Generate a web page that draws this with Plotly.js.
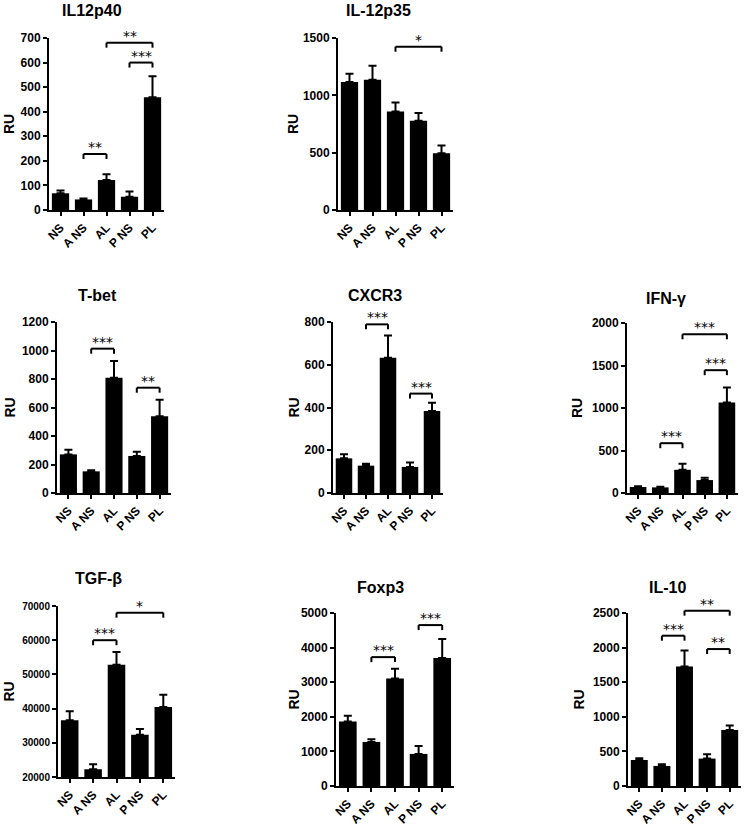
<!DOCTYPE html>
<html>
<head>
<meta charset="utf-8">
<script src="https://cdn.plot.ly/plotly-3.0.1.min.js"></script>
<style>
  body { margin: 0; background: #fff; }
  #chart { width: 746px; height: 828px; }
</style>
</head>
<body>
<div id="chart"></div>
<script>
const categories = ['NS', 'A NS', 'AL', 'P NS', 'PL'];

// means, SEM (upper error) and significance brackets [from, to, level, label]
const il12p40Mean = [68, 43, 122, 54, 459];
const il12p40Sem = [11, 4, 23, 21, 85];
const il12p40Sig = [[1, 2, 228, '**'], [3, 4, 600, '***'], [2, 4, 681, '**']];

const il12p35Mean = [1116, 1136, 859, 778, 495];
const il12p35Sem = [72, 122, 79, 67, 67];
const il12p35Sig = [[2, 4, 1424, '*']];

const tbetMean = [271, 152, 809, 260, 538];
const tbetSem = [33, 7, 117, 30, 117];
const tbetSig = [[1, 2, 1013, '***'], [3, 4, 739, '**']];

const cxcr3Mean = [162, 128, 633, 122, 384];
const cxcr3Sem = [19, 9, 104, 21, 38];
const cxcr3Sig = [[1, 2, 789, '***'], [3, 4, 465, '***']];

const ifngMean = [70, 66, 273, 152, 1066];
const ifngSem = [8, 8, 71, 28, 176];
const ifngSig = [[1, 2, 586, '***'], [3, 4, 1445, '***'], [2, 4, 1867, '***']];

const tgfbMean = [36570, 22240, 52850, 32380, 40470];
const tgfbSem = [2630, 1460, 3700, 1660, 3600];
const tgfbSig = [[1, 2, 60000, '***'], [2, 4, 68050, '*']];

const foxp3Mean = [1863, 1274, 3108, 927, 3697];
const foxp3Sem = [164, 77, 280, 231, 550];
const foxp3Sig = [[1, 2, 3725, '***'], [3, 4, 4651, '***']];

const il10Mean = [376, 290, 1728, 396, 811];
const il10Sem = [24, 24, 231, 62, 62];
const il10Sig = [[1, 2, 2172, '***'], [3, 4, 1979, '**'], [2, 4, 2534, '**']];

const W = 746, H = 828;
const FONT = 'Liberation Sans, Arial, sans-serif';

// box = [left, right, top, bottom] in pixels
const panels = [
  { title: 'IL12p40', mean: il12p40Mean, sem: il12p40Sem, sig: il12p40Sig, range: [0, 700], dtick: 100, box: [49, 164, 38, 210], titleAt: [92, 11], ruX: 9, tick: 12 },
  { title: 'IL-12p35', mean: il12p35Mean, sem: il12p35Sem, sig: il12p35Sig, range: [0, 1500], dtick: 500, box: [338, 453, 38, 210], titleAt: [378, 11], ruX: 293, tick: 12 },
  { title: 'T-bet', mean: tbetMean, sem: tbetSem, sig: tbetSig, range: [0, 1200], dtick: 200, box: [57, 171, 322, 493], titleAt: [97, 295], ruX: 9, tick: 12 },
  { title: 'CXCR3', mean: cxcr3Mean, sem: cxcr3Sem, sig: cxcr3Sig, range: [0, 800], dtick: 200, box: [333, 443, 322, 493], titleAt: [375, 295], ruX: 293, tick: 12 },
  { title: 'IFN-γ', mean: ifngMean, sem: ifngSem, sig: ifngSig, range: [0, 2000], dtick: 500, box: [627, 738, 323, 493], titleAt: [666, 298], ruX: 577, tick: 12 },
  { title: 'TGF-β', mean: tgfbMean, sem: tgfbSem, sig: tgfbSig, range: [20000, 70000], dtick: 10000, box: [58, 175, 606, 777], titleAt: [98, 578], ruX: 8, tick: 10 },
  { title: 'Foxp3', mean: foxp3Mean, sem: foxp3Sem, sig: foxp3Sig, range: [0, 5000], dtick: 1000, box: [336, 454, 613, 786], titleAt: [380, 587], ruX: 293, tick: 12 },
  { title: 'IL-10', mean: il10Mean, sem: il10Sem, sig: il10Sig, range: [0, 2500], dtick: 500, box: [628, 741, 613, 786], titleAt: [667, 587], ruX: 578, tick: 12 }
];

const data = [];
const layout = {
  width: W,
  height: H,
  margin: { l: 0, r: 0, t: 0, b: 0 },
  paper_bgcolor: '#fff',
  plot_bgcolor: '#fff',
  showlegend: false,
  bargap: 0.25,
  font: { family: FONT, color: '#000' },
  shapes: [],
  annotations: []
};

panels.forEach((p, i) => {
  const n = i === 0 ? '' : String(i + 1);
  const xa = 'x' + n, ya = 'y' + n;
  const [l, r, t, b] = p.box;

  data.push({
    type: 'bar',
    x: categories,
    y: p.mean,
    xaxis: xa,
    yaxis: ya,
    marker: { color: '#000', line: { width: 0 } },
    error_y: {
      type: 'data',
      symmetric: false,
      array: p.sem,
      arrayminus: p.sem.map(() => 0),
      color: '#000',
      thickness: 2,
      width: 4
    },
    hoverinfo: 'x+y'
  });

  const axisCommon = {
    showline: true,
    linecolor: '#000',
    linewidth: 2,
    ticks: 'outside',
    ticklen: 4,
    tickwidth: 2,
    tickcolor: '#000',
    showgrid: false,
    zeroline: false,
    fixedrange: true
  };

  layout['xaxis' + n] = Object.assign({}, axisCommon, {
    domain: [l / W, r / W],
    anchor: ya,
    type: 'category',
    range: [-0.5, 4.5],
    tickangle: -45,
    tickfont: { family: FONT, size: 12, weight: 'bold', color: '#000' }
  });

  layout['yaxis' + n] = Object.assign({}, axisCommon, {
    domain: [1 - b / H, 1 - t / H],
    anchor: xa,
    range: p.range,
    dtick: p.dtick,
    tick0: p.range[0],
    tickformat: 'd',
    tickfont: { family: FONT, size: p.tick, weight: 'bold', color: '#000' }
  });

  // panel title
  layout.annotations.push({
    xref: 'paper', yref: 'paper',
    x: p.titleAt[0] / W, y: 1 - p.titleAt[1] / H,
    xanchor: 'center', yanchor: 'middle',
    text: p.title, showarrow: false,
    font: { family: FONT, size: 16, weight: 'bold', color: '#000' }
  });

  // RU label
  layout.annotations.push({
    xref: 'paper', yref: 'paper',
    x: p.ruX / W, y: 1 - ((t + b) / 2) / H,
    xanchor: 'center', yanchor: 'middle',
    text: 'RU', textangle: -90, showarrow: false,
    font: { family: FONT, size: 14, weight: 'bold', color: '#000' }
  });

  // significance brackets, in paper coords so they can sit above the axis top
  const px = k => (l + (k + 0.5) / categories.length * (r - l)) / W;
  const py = v => 1 - (b - (v - p.range[0]) / (p.range[1] - p.range[0]) * (b - t)) / H;
  const drop = 5 / H;
  p.sig.forEach(([a, c, lvl, label]) => {
    const line = { type: 'line', xref: 'paper', yref: 'paper', line: { color: '#000', width: 2 } };
    const yy = py(lvl);
    layout.shapes.push(Object.assign({}, line, { x0: px(a), x1: px(c), y0: yy, y1: yy }));
    layout.shapes.push(Object.assign({}, line, { x0: px(a), x1: px(a), y0: yy, y1: yy - drop }));
    layout.shapes.push(Object.assign({}, line, { x0: px(c), x1: px(c), y0: yy, y1: yy - drop }));
    layout.annotations.push({
      xref: 'paper', yref: 'paper',
      x: (px(a) + px(c)) / 2, y: yy,
      xanchor: 'center', yanchor: 'bottom',
      yshift: -3,
      text: label, showarrow: false,
      font: { family: 'DejaVu Sans, sans-serif', size: 14, color: '#000' }
    });
  });
});

Plotly.newPlot('chart', data, layout, { staticPlot: true, displayModeBar: false });
</script>
</body>
</html>
